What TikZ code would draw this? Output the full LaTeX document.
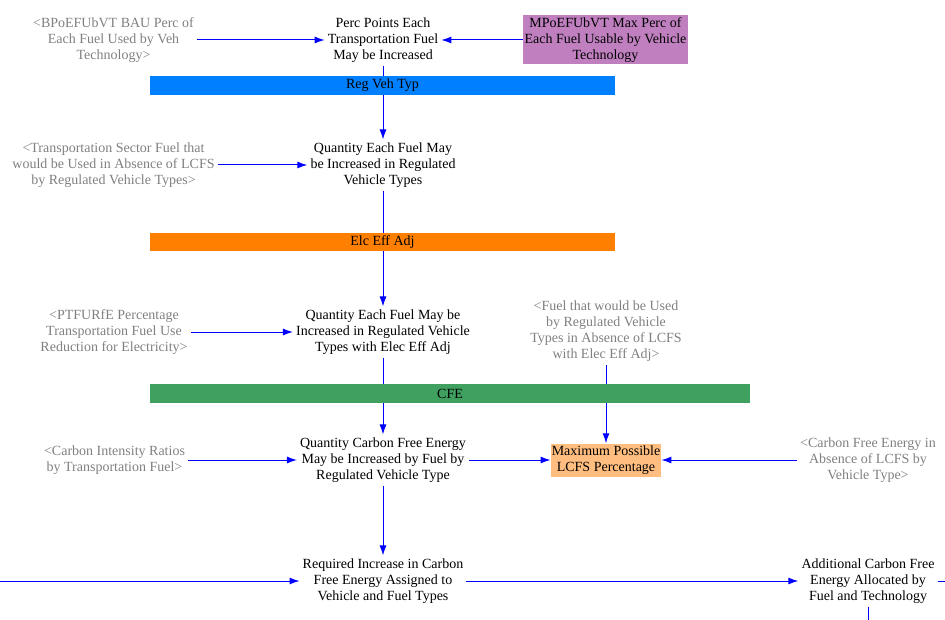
\documentclass[tikz,border=0pt]{standalone}
\usepackage{fontspec}
\setmainfont{Liberation Serif}
\usetikzlibrary{arrows.meta}
\definecolor{ghostgray}{RGB}{128,128,128}
\definecolor{regblue}{RGB}{0,128,255}
\definecolor{effvorange}{RGB}{255,128,0}
\definecolor{cfegreen}{RGB}{64,160,96}
\definecolor{maxpurple}{RGB}{192,128,192}
\definecolor{lcfsorange}{RGB}{255,190,128}
\tikzset{	x=1pt, y=-1pt,
	var/.style={
		align=center,
		inner sep=3pt,
		font=\fontsize{14}{16}\selectfont},
	ghost/.style={var, text=ghostgray},
	box/.style={var, inner sep=1pt},
	bar/.style={
		inner sep=0pt,
		font=\fontsize{14}{16}\selectfont},
	every edge/.style={
		draw,
		blue,
		line width=1pt,
		-{Latex[length=10pt,width=7pt]}}
}
\begin{document}
\begin{tikzpicture}
	\useasboundingbox (0,0) rectangle (945,620);
	% variables
	\node[var] (v1) at (383,40) {Perc Points Each\\Transportation Fuel\\May be Increased};
	\node[var] (v2) at (383,165) {Quantity Each Fuel May\\be Increased in Regulated\\Vehicle Types};
	\node[var] (v3) at (383,332) {Quantity Each Fuel May be\\Increased in Regulated Vehicle\\Types with Elec Eff Adj};
	\node[var] (v4) at (383,460) {Quantity Carbon Free Energy\\May be Increased by Fuel by\\Regulated Vehicle Type};
	\node[var] (v5) at (383,581) {Required Increase in Carbon\\Free Energy Assigned to\\Vehicle and Fuel Types};
	\node[var] (v6) at (868,581) {Additional Carbon Free\\Energy Allocated by\\Fuel and Technology};
	\node[box, fill=maxpurple, minimum width=165pt, minimum height=49pt] (maxperc) at (605.5,40) {MPoEFUbVT Max Perc of\\Each Fuel Usable by Vehicle\\Technology};
	\node[box, fill=lcfsorange, minimum width=108pt, minimum height=33pt] (maxlcfs) at (606,460) {Maximum Possible\\LCFS Percentage};
	% shadow variables
	\node[ghost] (g1) at (113.5,40) {<BPoEFUbVT BAU Perc of\\Each Fuel Used by Veh\\Technology>};
	\node[ghost] (g2) at (113.5,165) {<Transportation Sector Fuel that\\would be Used in Absence of LCFS\\by Regulated Vehicle Types>};
	\node[ghost] (g3) at (114,332) {<PTFURfE Percentage\\Transportation Fuel Use\\Reduction for Electricity>};
	\node[ghost] (g4) at (606,331.5) {<Fuel that would be Used\\by Regulated Vehicle\\Types in Absence of LCFS\\with Elec Eff Adj>};
	\node[ghost] (g5) at (114.5,460) {<Carbon Intensity Ratios\\by Transportation Fuel>};
	\node[ghost] (g6) at (868,460) {<Carbon Free Energy in\\Absence of LCFS by\\Vehicle Type>};
	\coordinate (inleft) at (0,581);
	\coordinate (outright) at (945,581);
	\coordinate (outdown) at (868,620);
	% links
	\draw (g1) edge (v1);
	\draw (maxperc) edge (v1);
	\draw (v1) edge (v2);
	\draw (g2) edge (v2);
	\draw (v2) edge (v3);
	\draw (g3) edge (v3);
	\draw (v3) edge (v4);
	\draw (g5) edge (v4);
	\draw (v4) edge (maxlcfs);
	\draw (g4) edge (maxlcfs);
	\draw (g6) edge (maxlcfs);
	\draw (v4) edge (v5);
	\draw (inleft) edge (v5);
	\draw (v5) edge (v6);
	\draw[blue, line width=1pt] (v6) -- (outright);
	\draw[blue, line width=1pt] (v6) -- (outdown);
	% subscript bars
	\node[bar, fill=regblue, minimum width=465pt, minimum height=19pt] (regveh) at (382.5,85.5) {Reg Veh Typ};
	\node[bar, fill=effvorange, minimum width=465pt, minimum height=18pt] (elceff) at (382.5,242) {Elc Eff Adj};
	\node[bar, fill=cfegreen, minimum width=600pt, minimum height=19pt] (cfe) at (450,393.5) {CFE};
\end{tikzpicture}
\end{document}
